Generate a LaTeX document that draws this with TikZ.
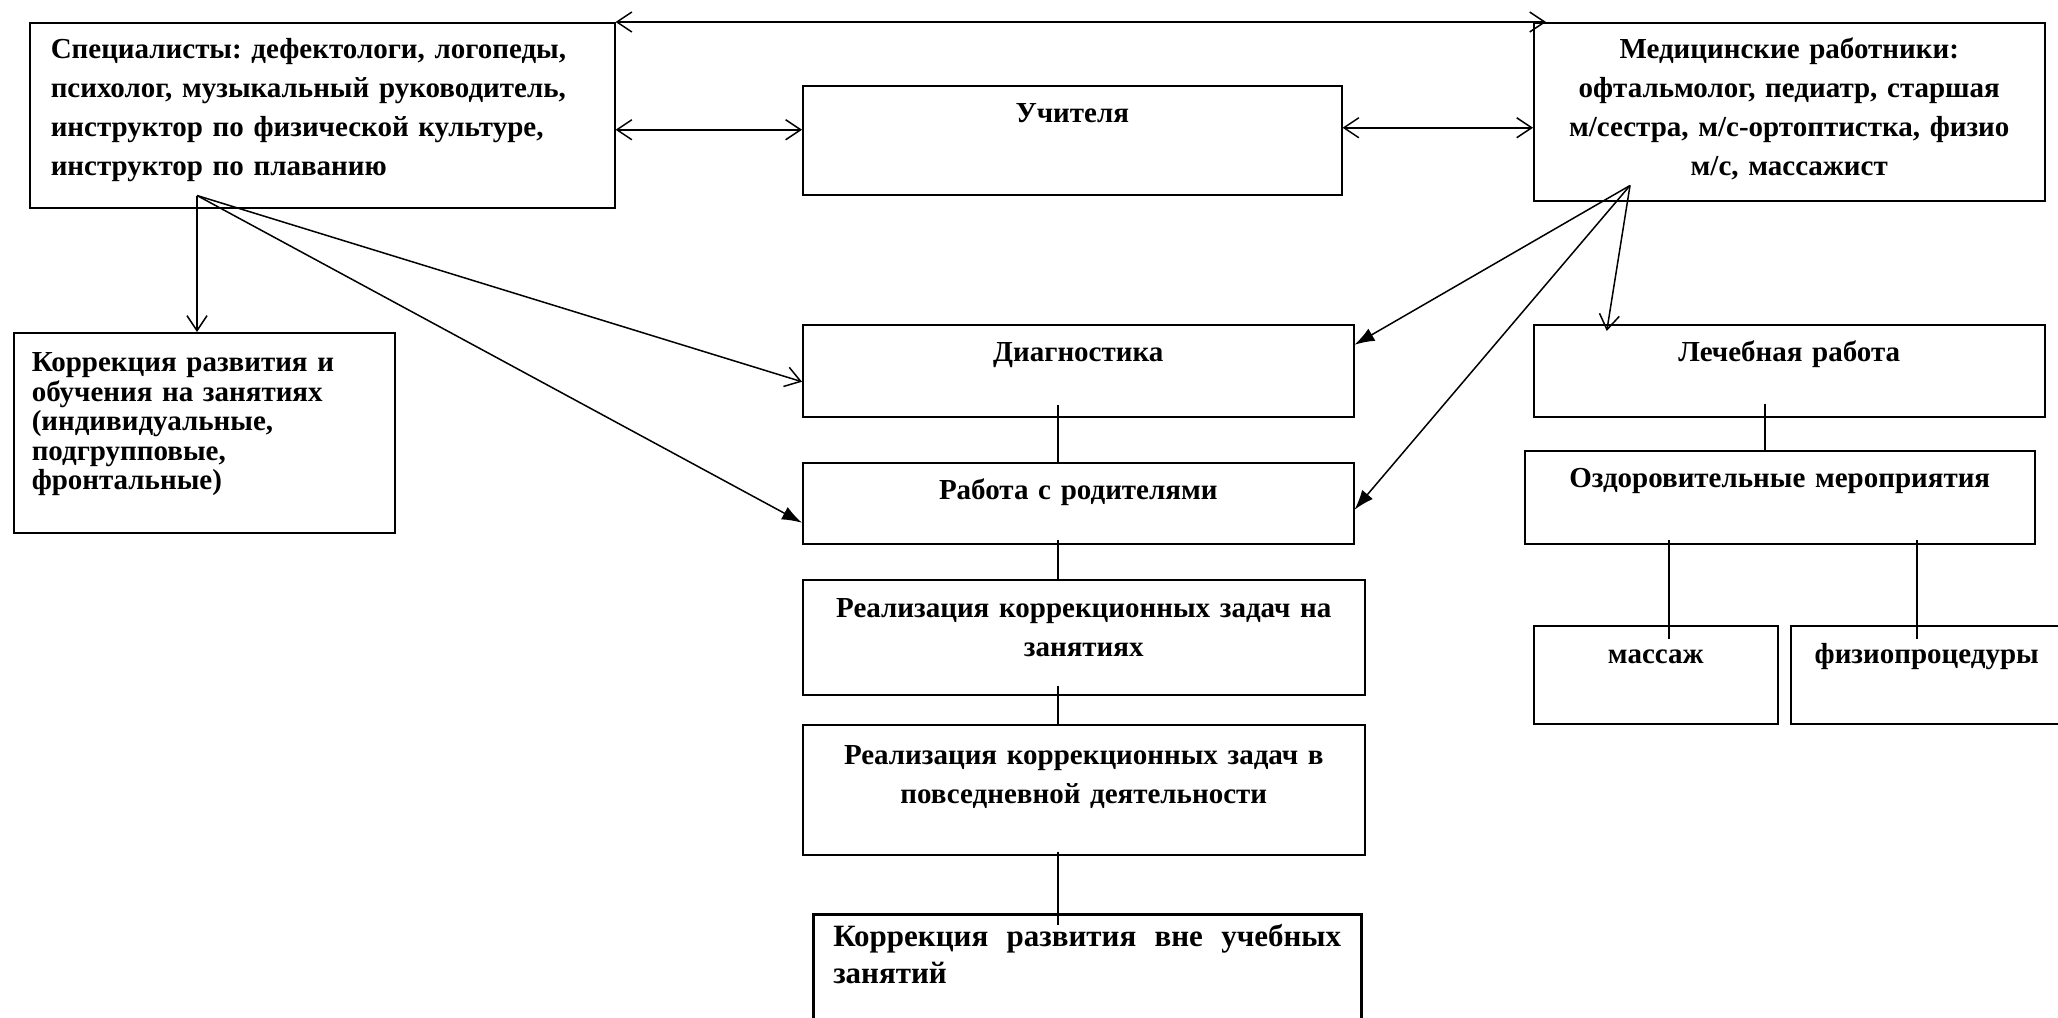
\documentclass[tikz,border=0pt]{standalone}
\usepackage{fontspec}
\setmainfont{Liberation Serif}
\usetikzlibrary{arrows.meta,calc,positioning}
\frenchspacing

\begin{document}
\begin{tikzpicture}[x=1pt,y=-1pt,line width=1.5pt,
    >={Straight Barb[length=15pt,width=20pt]},
    fill tip/.style={-{Latex[length=20pt,width=14pt]}},
    cell/.style={draw, anchor=north west, inner ysep=0pt, inner xsep=0pt, align=center,
                 font=\bfseries\fontsize{29}{39}\selectfont}]
    \useasboundingbox (0,0) rectangle (2058,1017);
    % top row
    \node[cell, align=left, inner xsep=21pt, text width=543pt, text height=36pt, text depth=149pt] (spec) at (29,22) {Специалисты: дефектологи, логопеды,\\ психолог, музыкальный руководитель,\\ инструктор по физической культуре,\\ инструктор по плаванию};
    \node[cell, text width=539pt, text height=37pt, text depth=72pt] (uchit) at (802,85) {Учителя};
    \node[cell, text width=511pt, text height=36pt, text depth=142pt] (med) at (1533,22) {Медицинские работники:\\ офтальмолог, педиатр, старшая\\ м/сестра, м/с-ортоптистка, физио\\ м/с, массажист};
    % left
    \node[cell, align=left, inner xsep=18pt, text width=345pt, text height=39pt, text depth=161pt, font=\bfseries\fontsize{29}{29.5}\selectfont] (korrL) at (13,332) {Коррекция развития и\\ обучения на занятиях\\ (индивидуальные,\\ подгрупповые,\\ фронтальные)};
    % middle column
    \node[cell, text width=551pt, text height=37pt, text depth=55pt] (diag) at (802,324) {Диагностика};
    \node[cell, text width=551pt, text height=37pt, text depth=44pt] (rabota) at (802,462) {Работа с родителями};
    \node[cell, text width=562pt, text height=38pt, text depth=77pt] (realA) at (802,579) {Реализация коррекционных задач на\\ занятиях};
    \node[cell, text width=562pt, text height=40pt, text depth=90pt] (realB) at (802,724) {Реализация коррекционных задач в\\ повседневной деятельности};
    \node[cell, line width=2.5pt, align=justify, inner xsep=20pt, text width=508pt, text height=32pt, text depth=118pt, font=\bfseries\fontsize{31}{37}\selectfont] (korrV) at (812,913) {Коррекция развития вне учебных\linebreak занятий};
    % right column
    \node[cell, text width=511pt, text height=37pt, text depth=55pt] (lech) at (1533,324) {Лечебная работа};
    \node[cell, text width=510pt, text height=37pt, text depth=56pt] (ozdor) at (1524,450) {Оздоровительные мероприятия};
    \node[cell, text width=244pt, text height=38pt, text depth=60pt] (massazh) at (1533,625) {массаж};
    \node[cell, text width=272pt, text height=38pt, text depth=60pt] (fizio) at (1790,625) {физиопроцедуры};

    % arrows between the top boxes
    \draw[<->] (spec.north east) -- ([xshift=13pt]med.north west);
    \coordinate (tA) at ([yshift=10.5pt]uchit.west);
    \coordinate (tB) at ([yshift=12.5pt]uchit.east);
    \draw[<->] (spec.east |- tA) -- (tA);
    \draw[<->] (tB) -- (med.west |- tB);

    % fans
    \coordinate (sfan) at ([xshift=168pt,yshift=13pt]spec.south west);
    \coordinate (mfan) at ([xshift=97pt,yshift=16pt]med.south west);
    \draw[->] (sfan) -- (sfan |- korrL.north);
    \draw[->] (sfan) -- ([yshift=-11pt]diag.west);
    \draw[fill tip] (sfan) -- ([yshift=-19.5pt]rabota.west);
    \draw[fill tip] (mfan) -- ([yshift=26pt]diag.east);
    \draw[fill tip] (mfan) -- ([yshift=-6.5pt]rabota.east);
    \draw[->] (mfan) -- ([xshift=-182.5pt,yshift=-7pt]lech.north);

    % middle chain
    \coordinate (colA) at ([xshift=-20.5pt]diag.south);
    \draw ($(colA)+(0,-13)$) -- (colA |- rabota.north);
    \draw ($(colA |- rabota.south)+(0,-5)$) -- (colA |- realA.north);
    \draw ($(colA |- realA.south)+(0,-10)$) -- (colA |- realB.north);
    \draw ($(colA |- realB.south)+(0,-4)$) -- ($(colA |- korrV.north)+(0,12)$);

    % right chain
    \coordinate (colB) at ([xshift=-24.5pt]lech.south);
    \draw ($(colB)+(0,-14)$) -- (colB |- ozdor.north);
    \coordinate (colC) at ([xshift=-111pt,yshift=5pt]ozdor.south);
    \coordinate (colD) at ([xshift=137pt,yshift=5pt]ozdor.south);
    \draw (colC) -- ($(colC |- massazh.north)+(0,14)$);
    \draw (colD) -- ($(colD |- fizio.north)+(0,14)$);
\end{tikzpicture}
\end{document}
